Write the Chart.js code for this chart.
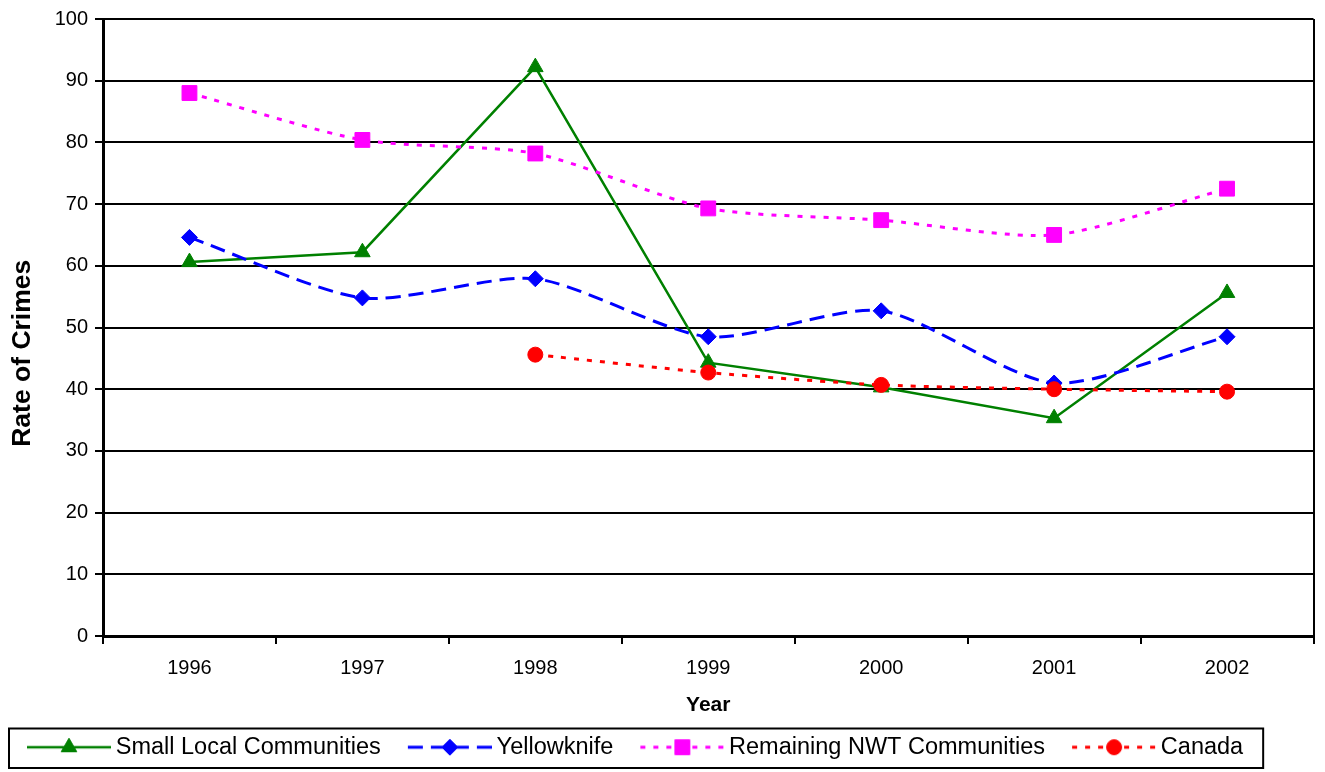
<!DOCTYPE html>
<html>
<head>
<meta charset="utf-8">
<title>Rate of Crimes</title>
<script src="https://cdn.jsdelivr.net/npm/chart.js@4.4.1/dist/chart.umd.min.js"></script>
<style>
    html, body { margin: 0; padding: 0; background: #ffffff; }
</style>
</head>
<body>
<canvas id="crimeChart" width="1325" height="772"></canvas>
<script>
// Chart data
const years = ["1996", "1997", "1998", "1999", "2000", "2001", "2002"];
const smallLocal = [60.6, 62.2, 92.2, 44.3, 40.3, 35.3, 55.6];
const yellowknife = [64.6, 54.8, 57.9, 48.5, 52.7, 41.0, 48.5];
const remainingNwt = [88.0, 80.4, 78.2, 69.3, 67.4, 65.0, 72.5];
const canada = [null, null, 45.6, 42.7, 40.7, 40.0, 39.6];
const seriesNames = ["Small Local Communities", "Yellowknife", "Remaining NWT Communities", "Canada"];
const yMin = 0;
const yMax = 100;
const yStep = 10;

Chart.defaults.font.family = "'Liberation Sans', Arial, sans-serif";
Chart.defaults.color = "#000";

// Small picture of line + marker used in the legend
function legendSample(color, dash, lineWidth, pointStyle, radius) {
    const c = document.createElement("canvas");
    c.width = 98;
    c.height = 24;
    const g = c.getContext("2d");
    const x0 = c.width - 84;
    g.strokeStyle = color;
    g.lineWidth = lineWidth;
    g.setLineDash(dash);
    g.beginPath();
    g.moveTo(x0, 12);
    g.lineTo(c.width, 12);
    g.stroke();
    g.setLineDash([]);
    g.fillStyle = color;
    g.lineWidth = 1;
    Chart.helpers.drawPoint(g, { pointStyle: pointStyle, radius: radius, rotation: 0, borderWidth: 1 }, x0 + 42, 12);
    return c;
}

const styles = [
    { color: "#008000", dash: [], width: 2.5, point: "triangle", radius: 9, tension: 0, order: 4 },
    { color: "#0000ff", dash: [15, 8], width: 3, point: "rectRot", radius: 8, tension: 0.25, order: 3 },
    { color: "#ff00ff", dash: [5, 8], width: 3, point: "rect", radius: 10.5, tension: 0.25, order: 2 },
    { color: "#ff0000", dash: [5, 8], width: 3, point: "circle", radius: 7.5, tension: 0.25, order: 1 }
];
const seriesValues = [smallLocal, yellowknife, remainingNwt, canada];

const samples = styles.map(s => legendSample(s.color, s.dash, s.width, s.point, s.radius));

const datasets = seriesValues.map((values, i) => ({
    label: seriesNames[i],
    data: values,
    borderColor: styles[i].color,
    backgroundColor: styles[i].color,
    borderWidth: styles[i].width,
    borderDash: styles[i].dash,
    pointStyle: styles[i].point,
    pointRadius: styles[i].radius,
    pointBorderWidth: 1,
    pointBackgroundColor: styles[i].color,
    pointBorderColor: styles[i].color,
    tension: styles[i].tension,
    order: styles[i].order,
    fill: false
}));

// Border round the legend
const legendBox = {
    id: "legendBox",
    afterDraw(chart) {
        const boxes = chart.legend && chart.legend.legendHitBoxes;
        if (!boxes || !boxes.length) return;
        const ctx = chart.ctx;
        const left = Math.min(...boxes.map(b => b.left)) - 11;
        const right = Math.max(...boxes.map(b => b.left + b.width)) + 20;
        const top = boxes[0].top - 7;
        const bottom = boxes[0].top + boxes[0].height + 9;
        ctx.save();
        ctx.strokeStyle = "#000";
        ctx.lineWidth = 2;
        ctx.strokeRect(left, top, right - left, bottom - top);
        ctx.restore();
    }
};

const chart = new Chart(document.getElementById("crimeChart").getContext("2d"), {
    type: "line",
    data: {
        labels: years,
        datasets: datasets
    },
    options: {
        responsive: false,
        animation: false,
        layout: {
            padding: { top: 15, right: 10, bottom: 3, left: 0 }
        },
        scales: {
            x: {
                offset: true,
                grid: {
                    offset: true,
                    drawOnChartArea: true,
                    color: c => c.type === "tick" ? "rgba(0,0,0,0)" : "#000",
                    lineWidth: 2,
                    tickColor: "#000",
                    tickLength: 8,
                    tickWidth: 2
                },
                border: { color: "#000", width: 3 },
                ticks: {
                    font: { size: 20 },
                    padding: 12,
                    maxRotation: 0
                },
                title: {
                    display: true,
                    text: "Year",
                    font: { size: 21, weight: "bold", lineHeight: 0.62 }
                },
                afterFit(scale) {
                    scale.height = 79.5;
                }
            },
            y: {
                min: yMin,
                max: yMax,
                ticks: {
                    stepSize: yStep,
                    font: { size: 20 },
                    padding: 7
                },
                grid: {
                    color: "#000",
                    lineWidth: 2,
                    tickColor: "#000",
                    tickLength: 8,
                    tickWidth: 2
                },
                border: { color: "#000", width: 3 },
                title: {
                    display: true,
                    // trailing spaces push the title down, as in the original
                    text: "Rate of Crimes       ",
                    font: { size: 26.5, weight: "bold", lineHeight: 1.4 }
                },
                afterFit(scale) {
                    scale.width = 103;
                }
            }
        },
        plugins: {
            tooltip: { enabled: false },
            legend: {
                position: "bottom",
                align: "start",
                labels: {
                    usePointStyle: true,
                    pointStyleWidth: 84,
                    padding: 20,
                    color: "#000",
                    font: { size: 23.5 },
                    sort: (a, b) => a.datasetIndex - b.datasetIndex,
                    generateLabels(chart) {
                        const items = Chart.defaults.plugins.legend.labels.generateLabels(chart);
                        items.forEach(item => {
                            item.pointStyle = samples[item.datasetIndex];
                        });
                        return items;
                    }
                }
            }
        }
    },
    plugins: [legendBox]
});
</script>
</body>
</html>
